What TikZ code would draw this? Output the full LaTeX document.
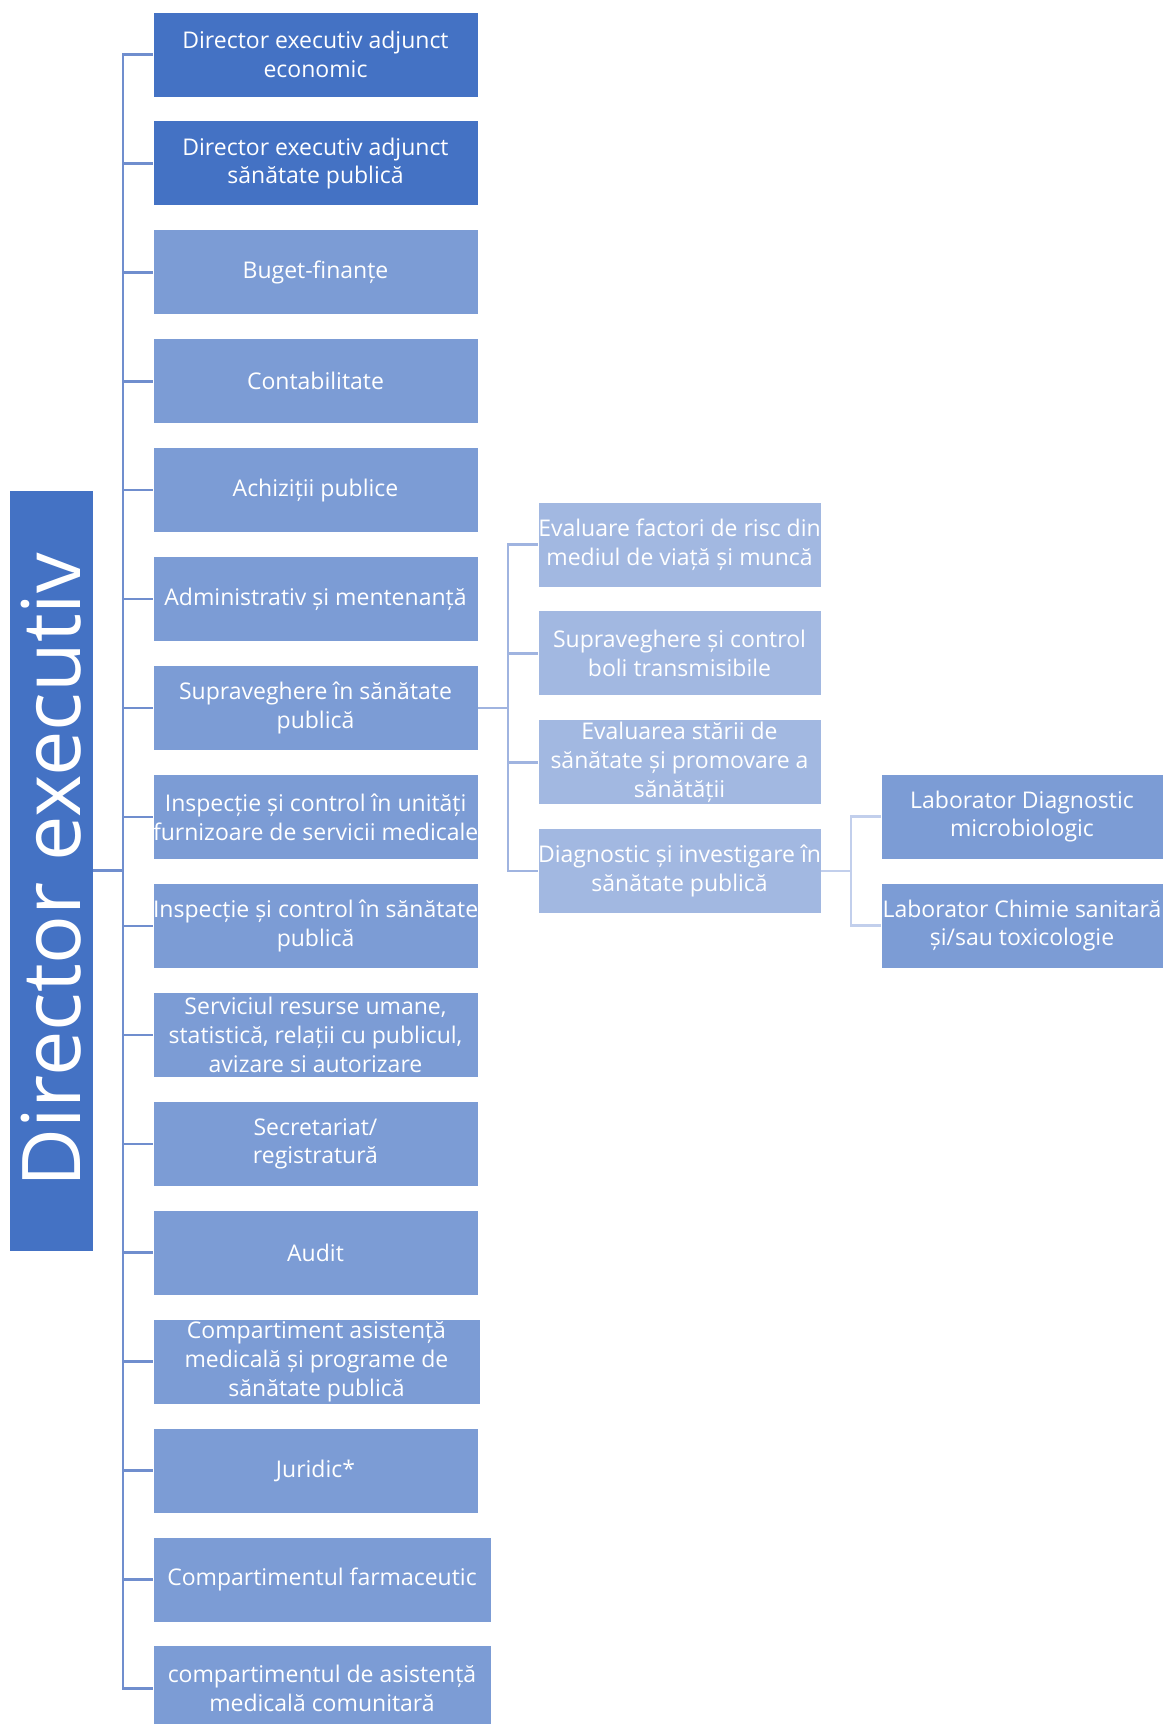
\documentclass[tikz,border=0pt]{standalone}
\usepackage{fontspec}
\setmainfont{Open Sans}
\usetikzlibrary{positioning,calc}
\definecolor{dkblue}{RGB}{68,114,196}
\definecolor{mdblue}{RGB}{124,156,213}
\definecolor{ltblue}{RGB}{162,184,225}
\definecolor{lineA}{RGB}{112,142,206}
\definecolor{lineB}{RGB}{160,180,224}
\definecolor{lineC}{RGB}{194,207,236}

\begin{document}
\begin{tikzpicture}[x=1pt, y=-1pt,
    unitbox/.style={draw=white, line width=1pt, inner sep=0pt, outer sep=0pt,
        minimum height=85, text=white, align=center,
        font=\fontsize{23}{28.8}\selectfont},
    mainline/.style={draw=lineA, line width=2.5pt},
    subline/.style={draw=lineB, line width=2.5pt},
    labline/.style={draw=lineC, line width=2.5pt}]
    \useasboundingbox (0,0) rectangle (1163,1724);
    \clip (0,0) rectangle (1163,1724);

    % Director
    \node[unitbox, fill=dkblue, minimum width=84, minimum height=761] (dir) at (51,870.5)
        {\rotatebox{90}{\fontsize{81}{81}\selectfont Director executiv}};

    % Departments
    \foreach \i/\w/\c/\t in {
        1/325/dkblue/{Director executiv adjunct\\economic},
        2/325/dkblue/{Director executiv adjunct\\sănătate publică},
        3/325/mdblue/{Buget-finanțe},
        4/325/mdblue/{Contabilitate},
        5/325/mdblue/{Achiziții publice},
        6/325/mdblue/{Administrativ și mentenanță},
        7/325/mdblue/{Supraveghere în sănătate\\publică},
        8/325/mdblue/{Inspecție și control în unități\\furnizoare de servicii medicale},
        9/325/mdblue/{Inspecție și control în sănătate\\publică},
        10/325/mdblue/{Serviciul resurse umane,\\statistică, relații cu publicul,\\avizare si autorizare},
        11/325/mdblue/{Secretariat/\\registratură},
        12/325/mdblue/{Audit},
        13/327/mdblue/{Compartiment asistență\\medicală și programe de\\sănătate publică},
        14/325/mdblue/{Juridic*},
        15/338/mdblue/{Compartimentul farmaceutic},
        16/338/mdblue/{compartimentul de asistență\\medicală comunitară}} {
        \node[unitbox, fill=\c, minimum width=\w, anchor=west] (m\i) at (153, 54.5+108.93*\i-108.93) {\t};
        \draw[mainline] (dir.east) -- ++(30,0) |- (m\i.west);
    }

    % Public health surveillance
    \foreach \i/\t in {
        1/{Evaluare factori de risc din\\mediul de viață și muncă},
        2/{Supraveghere și control\\boli transmisibile},
        3/{Evaluarea stării de\\sănătate și promovare a\\sănătății},
        4/{Diagnostic și investigare în\\sănătate publică}} {
        \node[unitbox, fill=ltblue, minimum width=283, anchor=west] (s\i) at (538, 544.5+108.9*\i-108.9) {\t};
        \draw[subline] (m7.east) -- ++(30,0) |- (s\i.west);
    }

    % Laboratories
    \foreach \i/\t in {
        1/{Laborator Diagnostic\\microbiologic},
        2/{Laborator Chimie sanitară\\și/sau toxicologie}} {
        \node[unitbox, fill=mdblue, minimum width=282, anchor=west] (l\i) at (881, 816.5+109*\i-109) {\t};
        \draw[labline] (s4.east) -- ++(30,0) |- (l\i.west);
    }

\end{tikzpicture}
\end{document}
